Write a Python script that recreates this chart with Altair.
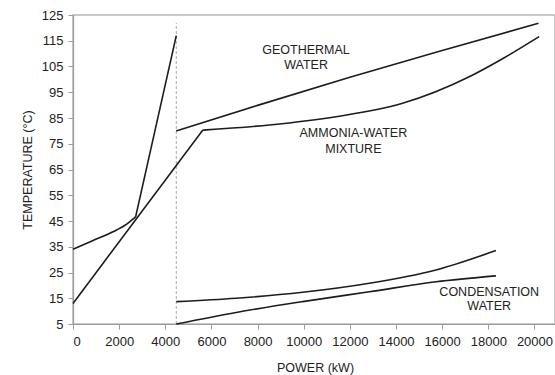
import altair as alt
import pandas as pd

# Temperature profiles of the heat-exchange streams: power (kW) vs temperature (°C)
hot_low_kw = [0, 870, 1730, 2310, 2714]
hot_low_t = [34.0, 37.4, 40.8, 43.7, 46.6]

hot_steep_kw = [2714, 4476]
hot_steep_t = [46.6, 117.0]

mix_left_kw = [0, 5628]
mix_left_t = [13.0, 80.3]

mix_right_kw = [5628, 8515, 11403, 14286, 17173, 18615, 20203]
mix_right_t = [80.3, 82.3, 85.5, 90.7, 101.0, 108.0, 116.6]

geo_kw = [4476, 8000, 12000, 16000, 20173]
geo_t = [80.0, 89.9, 100.8, 111.2, 121.8]

cond_hi_kw = [4476, 7074, 9957, 12844, 15732, 18329]
cond_hi_t = [13.7, 15.0, 17.3, 20.8, 26.0, 33.5]

cond_lo_kw = [4476, 7074, 9957, 12844, 15732, 18329]
cond_lo_t = [5.0, 9.5, 13.7, 17.5, 21.4, 23.7]

# Dashed divider between the two exchanger sections
divider_kw = [4476]
divider_t_low = [5.0]
divider_t_high = [121.9]

x_ticks = list(range(0, 20001, 2000))
y_ticks = list(range(5, 126, 10))

labels = ["GEOTHERMAL", "WATER", "AMMONIA-WATER", "MIXTURE", "CONDENSATION", "WATER"]
label_kw = [10100, 10100, 12150, 12150, 18040, 18040]
label_t = [111.4, 105.6, 79.1, 73.0, 17.5, 12.1]

FONT = "Liberation Sans"
TEXT = "#222222"
AXIS_GREY = "#9c9c9c"
LINE = "#1c1c1c"


def frame(name, kw, t):
    return pd.DataFrame({"series": name, "kw": kw, "t": t})


straight = pd.concat([
    frame("hot_steep", hot_steep_kw, hot_steep_t),
    frame("mix_left", mix_left_kw, mix_left_t),
])
curved = pd.concat([
    frame("hot_low", hot_low_kw, hot_low_t),
    frame("mix_right", mix_right_kw, mix_right_t),
    frame("geothermal", geo_kw, geo_t),
    frame("cond_hi", cond_hi_kw, cond_hi_t),
    frame("cond_lo", cond_lo_kw, cond_lo_t),
])
divider = pd.DataFrame({"kw": divider_kw, "t": divider_t_low, "t2": divider_t_high})
notes = pd.DataFrame({"label": labels, "kw": label_kw, "t": label_t})

x_scale = alt.Scale(domain=[0, 20890], nice=False, zero=False)
y_scale = alt.Scale(domain=[5, 125], nice=False, zero=False)

x_axis = alt.Axis(
    values=x_ticks, format="d", title="POWER (kW)",
    titleX=242, titleY=43, titleBaseline="middle", titleAnchor="middle",
    tickSize=5, labelPadding=6, labelOverlap=False,
)
y_axis = alt.Axis(
    values=y_ticks, format="d", title="TEMPERATURE (°C)",
    titleX=-46, titleY=154.5, titleAngle=270, titleBaseline="middle", titleAlign="center",
    tickSize=5, labelPadding=5, labelOverlap=False,
)

# Same scales and axes on every layer so the merged axes keep their tick values
x_enc = alt.X("kw:Q", scale=x_scale, axis=x_axis)
y_enc = alt.Y("t:Q", scale=y_scale, axis=y_axis)

straight_lines = alt.Chart(straight).mark_line(
    color=LINE, strokeWidth=1.6, interpolate="linear"
).encode(x=x_enc, y=y_enc, detail="series:N")

curved_lines = alt.Chart(curved).mark_line(
    color=LINE, strokeWidth=1.6, interpolate="monotone"
).encode(x=x_enc, y=y_enc, detail="series:N")

divider_rule = alt.Chart(divider).mark_rule(
    color="#a8a8a8", strokeWidth=1, strokeDash=[3, 2]
).encode(x=x_enc, y=y_enc, y2="t2:Q")

note_text = alt.Chart(notes).mark_text(
    font=FONT, fontSize=12.5, color=TEXT, align="center", baseline="middle"
).encode(x=x_enc, y=y_enc, text="label:N")

chart = alt.layer(divider_rule, straight_lines, curved_lines, note_text).properties(
    width=482,
    height=309,
    autosize=alt.AutoSizeParams(type="none"),
    padding={"left": 73, "top": 15, "right": 0, "bottom": 51},
    background="white",
).configure_view(
    stroke="#b8b8b8", strokeWidth=1.5
).configure_axis(
    grid=False,
    domainColor=AXIS_GREY,
    domainWidth=1.2,
    tickColor=AXIS_GREY,
    labelFont=FONT,
    labelFontSize=13,
    labelColor=TEXT,
    titleFont=FONT,
    titleFontSize=12.5,
    titleFontWeight="normal",
    titleColor=TEXT,
)

chart.save("out.html", embed_options={"renderer": "svg", "actions": False})
